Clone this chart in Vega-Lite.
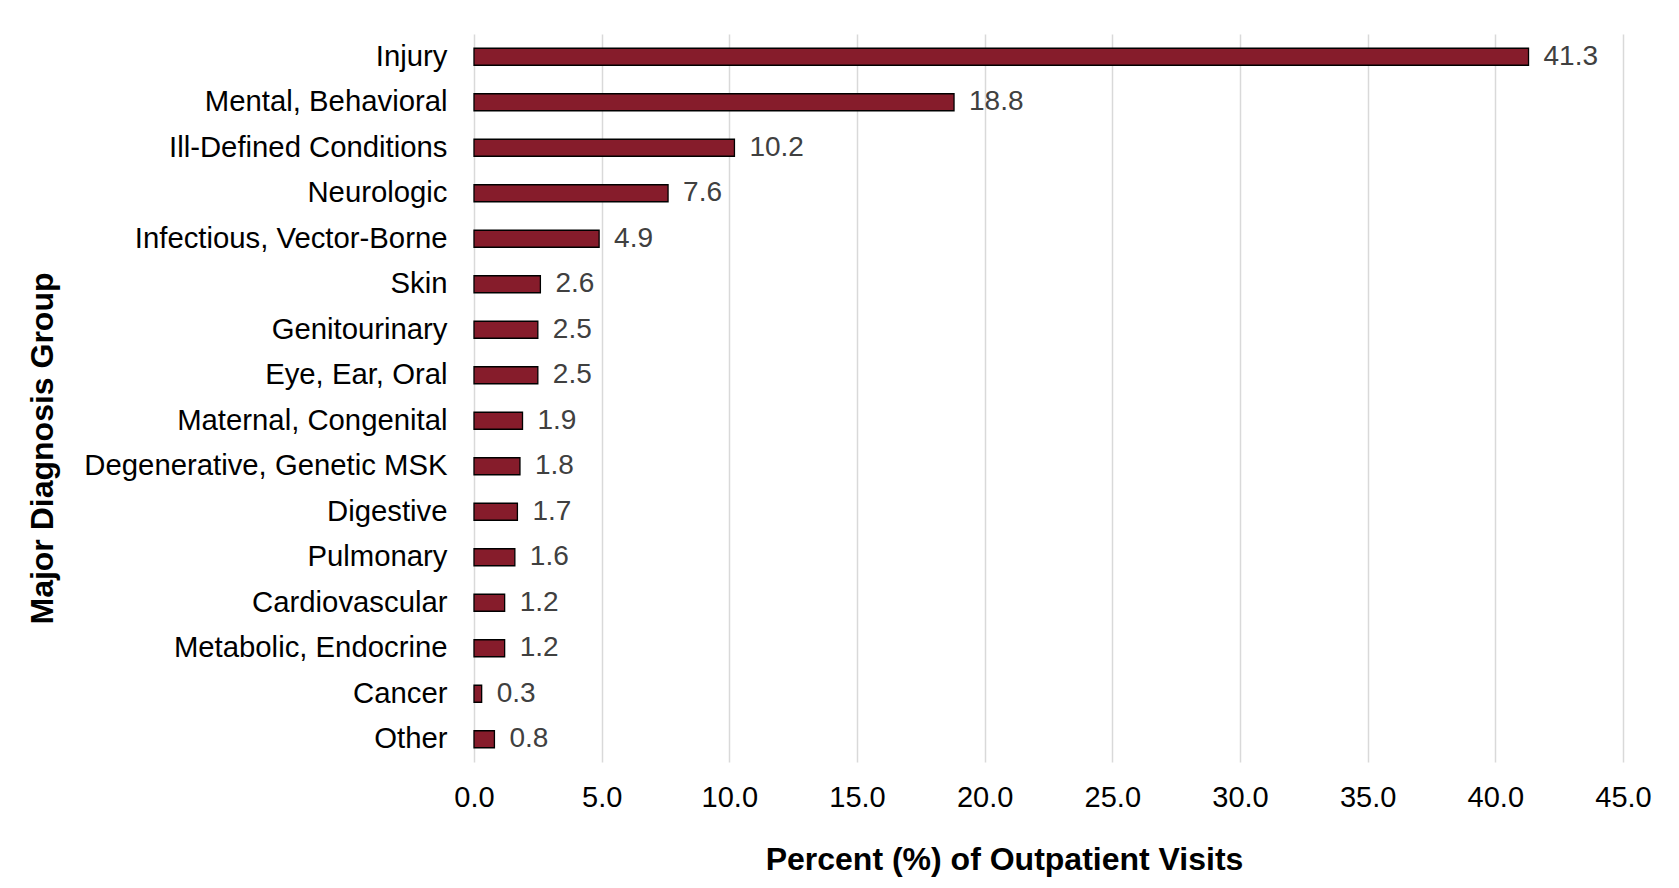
{
  "$schema": "https://vega.github.io/schema/vega-lite/v6.json",
  "autosize": "none",
  "width": 1149,
  "height": 728,
  "padding": {"left": 474, "top": 34, "right": 56, "bottom": 126},
  "background": "white",
  "config": {
    "view": {"stroke": null},
    "font": "Liberation Sans"
  },
  "data": {
    "values": [
      {"group": "Injury", "pct": 41.3},
      {"group": "Mental, Behavioral", "pct": 18.8},
      {"group": "Ill-Defined Conditions", "pct": 10.2},
      {"group": "Neurologic", "pct": 7.6},
      {"group": "Infectious, Vector-Borne", "pct": 4.9},
      {"group": "Skin", "pct": 2.6},
      {"group": "Genitourinary", "pct": 2.5},
      {"group": "Eye, Ear, Oral", "pct": 2.5},
      {"group": "Maternal, Congenital", "pct": 1.9},
      {"group": "Degenerative, Genetic MSK", "pct": 1.8},
      {"group": "Digestive", "pct": 1.7},
      {"group": "Pulmonary", "pct": 1.6},
      {"group": "Cardiovascular", "pct": 1.2},
      {"group": "Metabolic, Endocrine", "pct": 1.2},
      {"group": "Cancer", "pct": 0.3},
      {"group": "Other", "pct": 0.8}
    ]
  },
  "encoding": {
    "y": {
      "field": "group",
      "type": "nominal",
      "sort": null,
      "scale": {"paddingInner": 0, "paddingOuter": 0},
      "axis": {
        "title": "Major Diagnosis Group",
        "titleFont": "Liberation Sans",
        "titleFontSize": 32,
        "titleFontWeight": "bold",
        "titleColor": "#000000",
        "titleAngle": -90,
        "titleAlign": "center",
        "titleBaseline": "alphabetic",
        "titleX": -422,
        "titleY": 414,
        "labelFont": "Liberation Sans",
        "labelFontSize": 29.3,
        "labelColor": "#000000",
        "labelPadding": 27,
        "labelAlign": "right",
        "labelBaseline": "middle",
        "labelLimit": 0,
        "ticks": false,
        "tickSize": 0,
        "domain": false,
        "grid": false
      }
    },
    "x": {
      "field": "pct",
      "type": "quantitative",
      "scale": {"domain": [0, 45], "nice": false, "zero": true},
      "axis": {
        "title": "Percent (%) of Outpatient Visits",
        "titleFont": "Liberation Sans",
        "titleFontSize": 32,
        "titleFontWeight": "bold",
        "titleColor": "#000000",
        "titleAlign": "center",
        "titleBaseline": "alphabetic",
        "titleX": 530,
        "titleY": 107,
        "values": [0, 5, 10, 15, 20, 25, 30, 35, 40, 45],
        "format": ".1f",
        "labelFont": "Liberation Sans",
        "labelFontSize": 29,
        "labelColor": "#000000",
        "labelPadding": 35,
        "labelBaseline": "middle",
        "labelFlush": false,
        "labelOverlap": false,
        "ticks": false,
        "tickSize": 0,
        "domain": false,
        "grid": true,
        "gridColor": "#d9d9d9",
        "gridWidth": 1.5
      }
    }
  },
  "layer": [
    {
      "mark": {"type": "bar", "size": 17, "fill": "#861c2b", "stroke": "#000000", "strokeWidth": 1.3}
    },
    {
      "mark": {"type": "text", "align": "left", "baseline": "middle", "dx": 15, "fontSize": 28, "font": "Liberation Sans", "color": "#404040"},
      "encoding": {
        "text": {"field": "pct", "type": "quantitative", "format": ".1f"}
      }
    }
  ]
}
